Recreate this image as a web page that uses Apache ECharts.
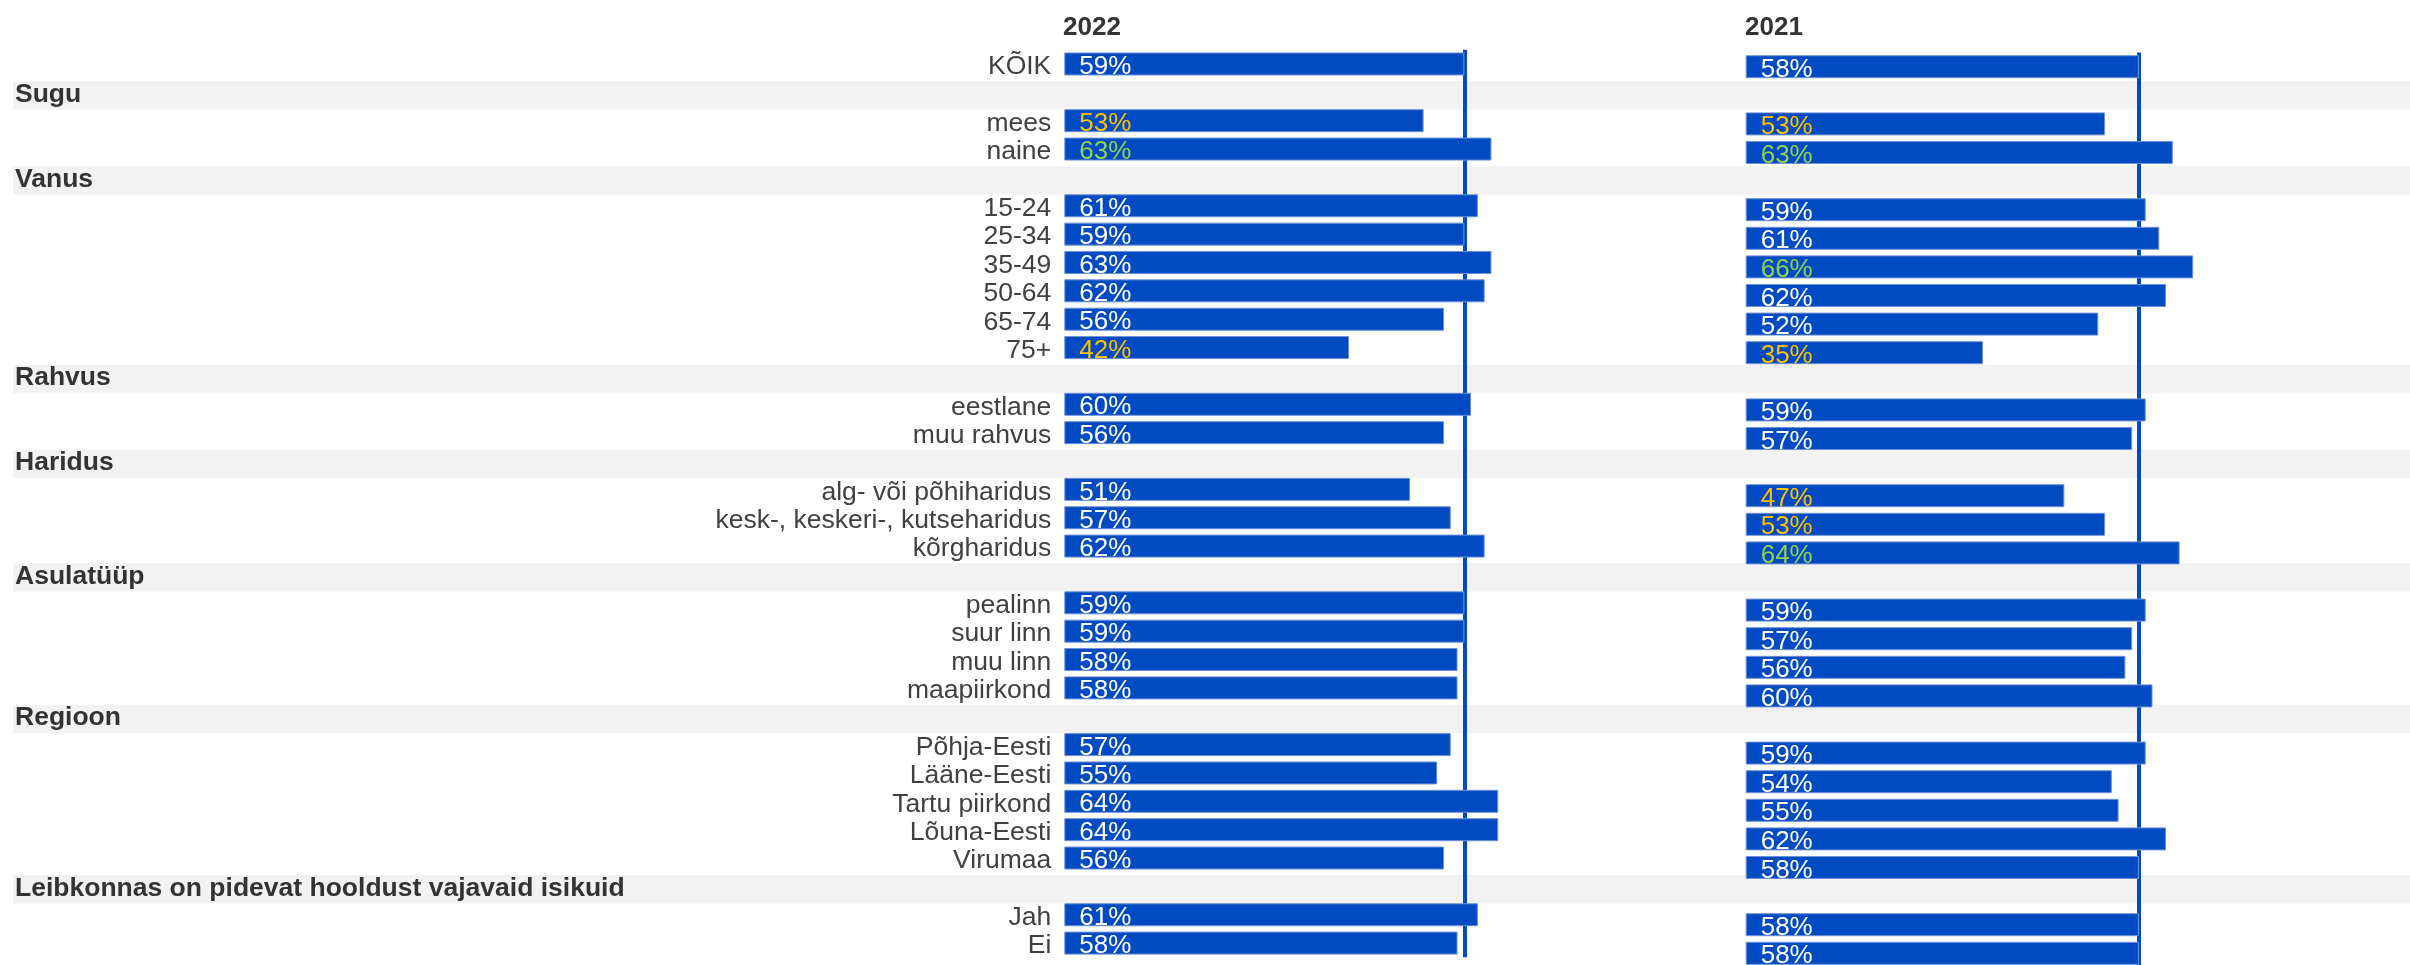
<!DOCTYPE html>
<html>
<head>
<meta charset="utf-8">
<script src="https://cdn.jsdelivr.net/npm/echarts@6/dist/echarts.min.js"></script>
<style>
html,body{margin:0;padding:0;background:#fff;}
#chart{width:2410px;height:965px;}
</style>
</head>
<body>
<div id="chart"></div>
<script>
// ---- data ----
const years = ['2022', '2021'];
const categories = [
  'KÕIK',
  'Sugu', 'mees', 'naine',
  'Vanus', '15-24', '25-34', '35-49', '50-64', '65-74', '75+',
  'Rahvus', 'eestlane', 'muu rahvus',
  'Haridus', 'alg- või põhiharidus', 'kesk-, keskeri-, kutseharidus', 'kõrgharidus',
  'Asulatüüp', 'pealinn', 'suur linn', 'muu linn', 'maapiirkond',
  'Regioon', 'Põhja-Eesti', 'Lääne-Eesti', 'Tartu piirkond', 'Lõuna-Eesti', 'Virumaa',
  'Leibkonnas on pidevat hooldust vajavaid isikuid', 'Jah', 'Ei'
];
const sectionHeaders = ['Sugu', 'Vanus', 'Rahvus', 'Haridus', 'Asulatüüp', 'Regioon',
  'Leibkonnas on pidevat hooldust vajavaid isikuid'];
const values2022 = [59, null, 53, 63, null, 61, 59, 63, 62, 56, 42, null, 60, 56, null, 51, 57, 62,
  null, 59, 59, 58, 58, null, 57, 55, 64, 64, 56, null, 61, 58];
const values2021 = [58, null, 53, 63, null, 59, 61, 66, 62, 52, 35, null, 59, 57, null, 47, 53, 64,
  null, 59, 57, 56, 60, null, 59, 54, 55, 62, 58, null, 58, 58];
// significance flags: -1 lower (orange), 1 higher (green), 0 none
const sig2022 = [0, 0, -1, 1, 0, 0, 0, 0, 0, 0, -1, 0, 0, 0, 0, 0, 0, 0,
  0, 0, 0, 0, 0, 0, 0, 0, 0, 0, 0, 0, 0, 0];
const sig2021 = [0, 0, -1, 1, 0, 0, 0, 1, 0, 0, -1, 0, 0, 0, 0, -1, -1, 1,
  0, 0, 0, 0, 0, 0, 0, 0, 0, 0, 0, 0, 0, 0];

// ---- styles ----
const BLUE = '#004BC1';
const BORDER = '#6F90DB';
const LOW = '#FFC000';
const HIGH = '#92D050';
const FONT = 'Liberation Sans, Arial, sans-serif';

function sigColor(s) { return s < 0 ? LOW : (s > 0 ? HIGH : '#FFFFFF'); }
function barData(vals, sig) {
  return vals.map((v, i) => v == null ? '-' : ({ value: v, label: { color: sigColor(sig[i]) } }));
}
const isHeader = categories.map(c => sectionHeaders.indexOf(c) >= 0);
const bandData = isHeader.map(h => h ? 1 : '-');
const labelAnchorData = isHeader.map(h => h ? '-' : 0);

function catAxis(gridIndex) {
  return {
    type: 'category', gridIndex: gridIndex, data: categories, inverse: true,
    axisLine: { show: false }, axisTick: { show: false }, splitLine: { show: false },
    axisLabel: { show: false }
  };
}
function valAxis(gridIndex, max) {
  return {
    type: 'value', gridIndex: gridIndex, min: 0, max: max,
    show: false, splitLine: { show: false }
  };
}
function barSeries(idx, vals, sig) {
  return {
    type: 'bar', xAxisIndex: idx, yAxisIndex: idx, data: barData(vals, sig),
    barWidth: 23, barGap: '-100%', z: 3,
    itemStyle: { color: BLUE, borderColor: BORDER, borderWidth: 1 },
    label: {
      show: true, position: 'insideLeft', distance: 15, fontSize: 26, fontFamily: FONT,
      formatter: (p) => p.value + '%', offset: [0, 3]
    },
    markLine: {
      silent: true, symbol: 'none', z: 2, animation: false,
      label: { show: false },
      lineStyle: { color: BLUE, width: 4, type: 'solid' },
      data: [{ xAxis: vals[0] }]
    }
  };
}

const chart = echarts.init(document.getElementById('chart'), null, { renderer: 'canvas' });
chart.setOption({
  animation: false,
  backgroundColor: '#ffffff',
  textStyle: { fontFamily: FONT },
  title: [
    { text: years[0], left: 1063, top: 15, padding: 0,
      textStyle: { fontSize: 26, fontWeight: 'bold', color: '#333333', fontFamily: FONT } },
    { text: years[1], left: 1745, top: 15, padding: 0,
      textStyle: { fontSize: 26, fontWeight: 'bold', color: '#333333', fontFamily: FONT } }
  ],
  grid: [
    { left: 13, width: 2397, top: 52.8, height: 907.3, outerBoundsMode: 'none', containLabel: false },
    { left: 1064.3, width: 678, top: 49.8, height: 907.5, outerBoundsMode: 'none', containLabel: false },
    { left: 1745.7, width: 678, top: 52.4, height: 915.2, outerBoundsMode: 'none', containLabel: false }
  ],
  xAxis: [valAxis(0, 1), valAxis(1, 100), valAxis(2, 100)],
  yAxis: [catAxis(0), catAxis(1), catAxis(2)],
  series: [
    {
      type: 'bar', xAxisIndex: 0, yAxisIndex: 0, data: bandData, barWidth: '100%', z: 1,
      itemStyle: { color: '#F2F2F2' }, silent: true,
      label: {
        show: true, position: 'insideLeft', distance: 2, fontSize: 26.5, fontWeight: 'bold',
        color: '#333333', fontFamily: FONT, formatter: '{b}', offset: [0, -1]
      }
    },
    {
      // category labels anchored at the start of the 2022 axis
      type: 'bar', xAxisIndex: 1, yAxisIndex: 1, data: labelAnchorData, barWidth: 23, barGap: '-100%',
      z: 4, silent: true, itemStyle: { color: 'rgba(0,0,0,0)' },
      label: {
        show: true, position: 'left', distance: 13, fontSize: 26.5, color: '#404040',
        fontFamily: FONT, formatter: '{b}', offset: [0, 3]
      }
    },
    barSeries(1, values2022, sig2022),
    barSeries(2, values2021, sig2021)
  ]
});
</script>
</body>
</html>
